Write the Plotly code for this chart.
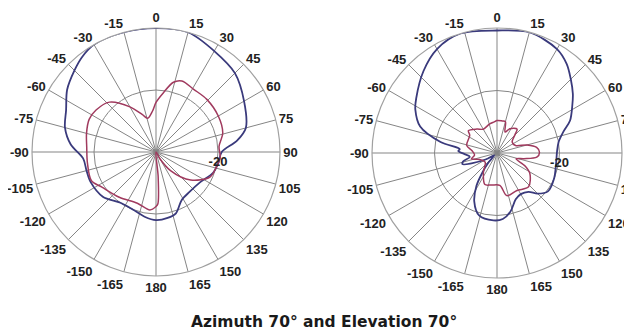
import plotly.graph_objects as go

# ---- Left pattern (Azimuth) ----
az_blue_theta = [0, 15, 30, 45, 60, 75, 82, 90, 100, 110, 125, 140, 152, 162, 170, 180,
                 -170, -158, -145, -130, -115, -105, -95, -85, -75, -65, -55, -45, -38, -30, -15, 0]
az_blue_db = [0, 0, -2.4, -4, -7.2, -10, -13.6, -18.8, -19.6, -20.4, -22.8, -23.2, -22.4, -19.2, -18.4, -18,
              -18.8, -20, -20, -17.6, -16.8, -16.8, -16.4, -12.4, -9.6, -8, -5, -2.8, -1.2, 0, 0, 0]

az_red_theta = [-14, -5, 0, 7, 14, 20, 31, 44, 60, 74, 85, 95, 105, 115, 129, 142, 150, 165, 175, 178, 180,
                -174, -160, -141, -123, -114, -99, -86, -75, -64, -55, -43, -30, -20, -14]
az_red_db = [-28.8, -26.8, -24, -20.8, -16.8, -15.6, -16.4, -16.4, -16.8, -17.6, -19.6, -19.2, -20, -20.8,
             -25.6, -32.4, -37.6, -40, -32, -23.2, -22.4,
             -21.2, -22.4, -21.2, -19.2, -17.2, -17.6, -17.6, -16.8, -16, -16.4, -18, -23.2, -27.2, -28.8]

# ---- Right pattern (Elevation) ----
el_blue_theta = [0, 15, 30, 38, 45, 52, 58, 66, 72, 80, 89, 100, 114, 127, 135, 141, 150, 158, 167, 175,
                 -177, -164, -155, -148, -143, -138, -130, -120, -112, -108, -104, -98, -92, -87, -84,
                 -79, -71, -62, -56, -42, -30, -17, 0]
el_blue_db = [-0.8, 0, -1.6, -3.8, -6.6, -9.2, -11.6, -14.4, -17.6, -20, -20.8, -20.8, -20, -19.6, -21.6, -24,
              -24.8, -24, -20.8, -18.8,
              -18.4, -19.2, -22.8, -27.6, -32.4, -36, -38.8, -36, -31.2, -28.4, -28.8, -31.2, -29.6, -27.6, -28,
              -21.6, -14, -10.4, -8.8, -4.8, -1.6, 0, -0.8]

el_red_theta = [0, 9, 15, 21, 28, 40, 44, 54, 68, 75, 82, 89, 96, 102, 107, 115, 122, 137, 152, 167, 175,
                -170, -159, -145, -128, -110, -103, -95, -85, -76, -57, -52, -40, -30, -14, -5, 0]
el_red_db = [-29.6, -29.6, -29.6, -32.8, -31.2, -30, -31.6, -34, -33.6, -30, -27.2, -26.4, -27.2, -31.2, -33.6,
             -30, -27.6, -25.2, -26.4, -26, -29.6,
             -29.6, -29.2, -32.4, -35.2, -34, -31.6, -32.8, -32, -30, -29.6, -28.4, -30, -31.2, -30.4, -30, -29.6]

tick_vals = [0, 15, 30, 45, 60, 75, 90, 105, 120, 135, 150, 165, 180,
             195, 210, 225, 240, 255, 270, 285, 300, 315, 330, 345]
tick_text = ["0", "15", "30", "45", "60", "75", "90", "105", "120", "135", "150", "165", "180",
             "-165", "-150", "-135", "-120", "-105", "-90", "-75", "-60", "-45", "-30", "-15"]

title_text = "Azimuth 70\u00b0 and Elevation 70\u00b0"

BLUE = "#3a3a7c"
RED = "#a03a5e"
GRID = "#858585"


def trace(theta, r, color, width, sub):
    return go.Scatterpolar(theta=theta, r=r, mode="lines",
                           line=dict(color=color, width=width, shape="spline", smoothing=0.9),
                           subplot=sub, showlegend=False)


fig = go.Figure()
fig.add_trace(trace(az_blue_theta, az_blue_db, BLUE, 1.8, "polar"))
fig.add_trace(trace(az_red_theta, az_red_db, RED, 1.5, "polar"))
fig.add_trace(trace(el_blue_theta, el_blue_db, BLUE, 1.8, "polar2"))
fig.add_trace(trace(el_red_theta, el_red_db, RED, 1.5, "polar2"))

LABEL_FONT = dict(family="Liberation Sans, Arial", size=13, color="#222222", weight="bold")


def polar_layout(xd, yd):
    return dict(
        domain=dict(x=xd, y=yd),
        bgcolor="white",
        angularaxis=dict(
            direction="clockwise", rotation=90,
            tickmode="array", tickvals=tick_vals, ticktext=tick_text,
            showgrid=True, gridcolor=GRID, gridwidth=1.3,
            showline=True, linecolor="#a0a0a0", linewidth=1.2,
            ticks="", tickfont=LABEL_FONT,
        ),
        radialaxis=dict(
            range=[-40, 0], tickmode="array", tickvals=[-20], ticktext=["-20"],
            showgrid=True, gridcolor=GRID, gridwidth=1.3,
            showline=False, ticks="", angle=0, side="clockwise",
            tickfont=LABEL_FONT,
        ),
    )


# page coordinates (the html body adds an 8 px offset)
OFF = 8
W, H = 632, 333
lc, lr = (156 - OFF, 152 - OFF), 124
rc, rr = (497 - OFF, 153 - OFF), 125
fig.update_layout(
    width=W, height=H,
    margin=dict(l=0, r=0, t=0, b=0),
    paper_bgcolor="white",
    polar=polar_layout([(lc[0] - lr) / W, (lc[0] + lr) / W],
                       [(H - lc[1] - lr) / H, (H - lc[1] + lr) / H]),
    polar2=polar_layout([(rc[0] - rr) / W, (rc[0] + rr) / W],
                        [(H - rc[1] - rr) / H, (H - rc[1] + rr) / H]),
    annotations=[dict(text=title_text, x=(324 - OFF) / W, y=(H - (322 - OFF)) / H, xref="paper", yref="paper",
                      showarrow=False, xanchor="center", yanchor="middle",
                      font=dict(family="DejaVu Sans, Verdana", size=15.5, color="#1a1a1a", weight="bold"))],
)

fig.write_html("out.html")
